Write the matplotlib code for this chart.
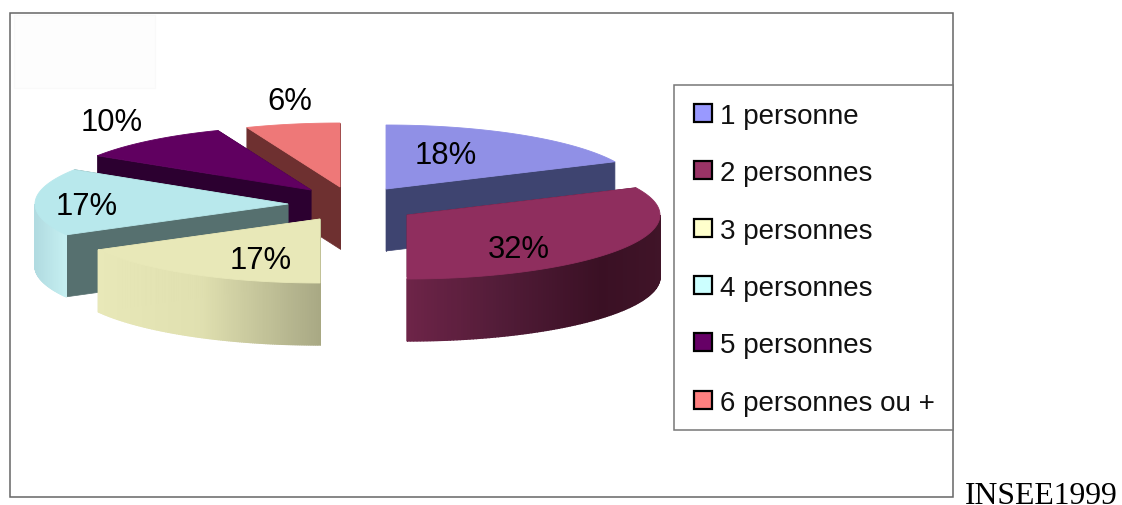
import numpy as np
import matplotlib
matplotlib.use("Agg")
import matplotlib.pyplot as plt
from matplotlib.colors import to_rgb
from matplotlib.patches import Polygon, Rectangle

# valeurs
LABELS = ["1 personne", "2 personnes", "3 personnes", "4 personnes", "5 personnes", "6 personnes ou +"]
VALUES = [18, 32, 17, 17, 10, 6]
PCT_TEXT = ["18%", "32%", "17%", "17%", "10%", "6%"]

TOP_COLORS = ["#9090e6", "#8f2e5e", "#e8e8b8", "#b8e8ec", "#600060", "#ee7878"]
FACE_COLORS = ["#3e4470", "#4a1830", "#a8a880", "#56706f", "#2c0030", "#6e3030"]
LEGEND_COLORS = ["#9999ff", "#993366", "#ffffcc", "#ccffff", "#660066", "#ff8080"]

# degrade du bord exterieur: (x pixel, couleur) par part
RIM_STOPS = {
    1: [(407, "#6e2448"), (500, "#521c38"), (600, "#3a1024"), (661, "#401428")],
    2: [(97, "#e8e8b8"), (200, "#e0e0b0"), (320, "#a8a884")],
    3: [(33, "#b0dae0"), (63, "#c4eef0")],
}

# centre de chaque part eclatee, en pixels
CENTERS = [(386, 190), (407, 216), (320, 220), (288, 205), (311, 191), (340, 188)]
PCT_POS = [(446, 156), (519, 250), (261, 261), (87, 207), (112, 123), (290, 102)]
DRAW_ORDER = [5, 4, 0, 3, 2, 1]

RADIUS_X = 253
RADIUS_Y = 64
DEPTH = 62

LEGEND_ROWS = [114, 171, 229, 286, 343, 401]


def arc_points(center, start, end):
    # angle en degres, sens horaire depuis midi
    t = np.radians(np.linspace(start, end, 120))
    return np.column_stack([center[0] + RADIUS_X * np.sin(t), center[1] - RADIUS_Y * np.cos(t)])


def draw_rim(ax, i, center, start, end):
    lo = max(start, 90)
    hi = min(end, 270)
    if lo >= hi:
        return
    pts = arc_points(center, lo, hi)
    xs = [s[0] for s in RIM_STOPS[i]]
    rgb = np.array([to_rgb(s[1]) for s in RIM_STOPS[i]])
    for k in range(len(pts) - 1):
        a, b = pts[k], pts[k + 1]
        col = [np.interp((a[0] + b[0]) / 2, xs, rgb[:, c]) for c in range(3)]
        strip = [a, b, b + [0, DEPTH], a + [0, DEPTH]]
        ax.add_patch(Polygon(strip, closed=True, facecolor=col, edgecolor=col, lw=1.0))


def draw_slice(ax, i, start, end):
    center = np.array(CENTERS[i], dtype=float)
    arc = arc_points(center, start, end)

    # faces coupees
    for p in (arc[0], arc[-1]):
        face = [center, p, p + [0, DEPTH], center + [0, DEPTH]]
        ax.add_patch(Polygon(face, closed=True, facecolor=FACE_COLORS[i], edgecolor=FACE_COLORS[i], lw=0.5))

    if i in RIM_STOPS:
        draw_rim(ax, i, center, start, end)

    top = np.vstack([center, arc])
    ax.add_patch(Polygon(top, closed=True, facecolor=TOP_COLORS[i], edgecolor=TOP_COLORS[i], lw=0.6))


def main():
    fig = plt.figure(figsize=(11.22, 5.06), dpi=100)
    ax = fig.add_axes([0, 0, 1, 1])
    ax.set_xlim(0, 1122)
    ax.set_ylim(506, 0)
    ax.axis("off")

    # cadre et tache tres pale en haut a gauche
    ax.add_patch(Rectangle((10.5, 13.5), 942.5, 484, facecolor="white", edgecolor="#666666", lw=1.1))
    ax.add_patch(Rectangle((14, 16), 141, 73, facecolor="#fdfdfd", edgecolor="#f9f9f9", lw=0.8))

    bounds = np.cumsum([0] + VALUES) / sum(VALUES) * 360
    for i in DRAW_ORDER:
        draw_slice(ax, i, bounds[i], bounds[i + 1])

    for text, (x, y) in zip(PCT_TEXT, PCT_POS):
        ax.text(x, y, text, family="Liberation Sans", fontsize=22.3, color="black", ha="center", va="center")

    # legende
    ax.add_patch(Rectangle((674, 85.5), 279, 345, facecolor="white", edgecolor="#777777", lw=1.1, zorder=3))
    for label, color, y in zip(LABELS, LEGEND_COLORS, LEGEND_ROWS):
        ax.add_patch(Rectangle((694, y - 9), 18, 18, facecolor=color, edgecolor="black", lw=1.6, zorder=4))
        ax.text(720, y + 10, label, family="Liberation Sans", fontsize=20, color="#111111",
                ha="left", va="baseline", zorder=4)

    ax.text(965, 504.5, "INSEE1999", family="Liberation Serif", fontsize=22.9, color="black",
            ha="left", va="baseline", clip_on=False)

    fig.savefig("out.png", dpi=100)
    plt.close(fig)


if __name__ == "__main__":
    main()
